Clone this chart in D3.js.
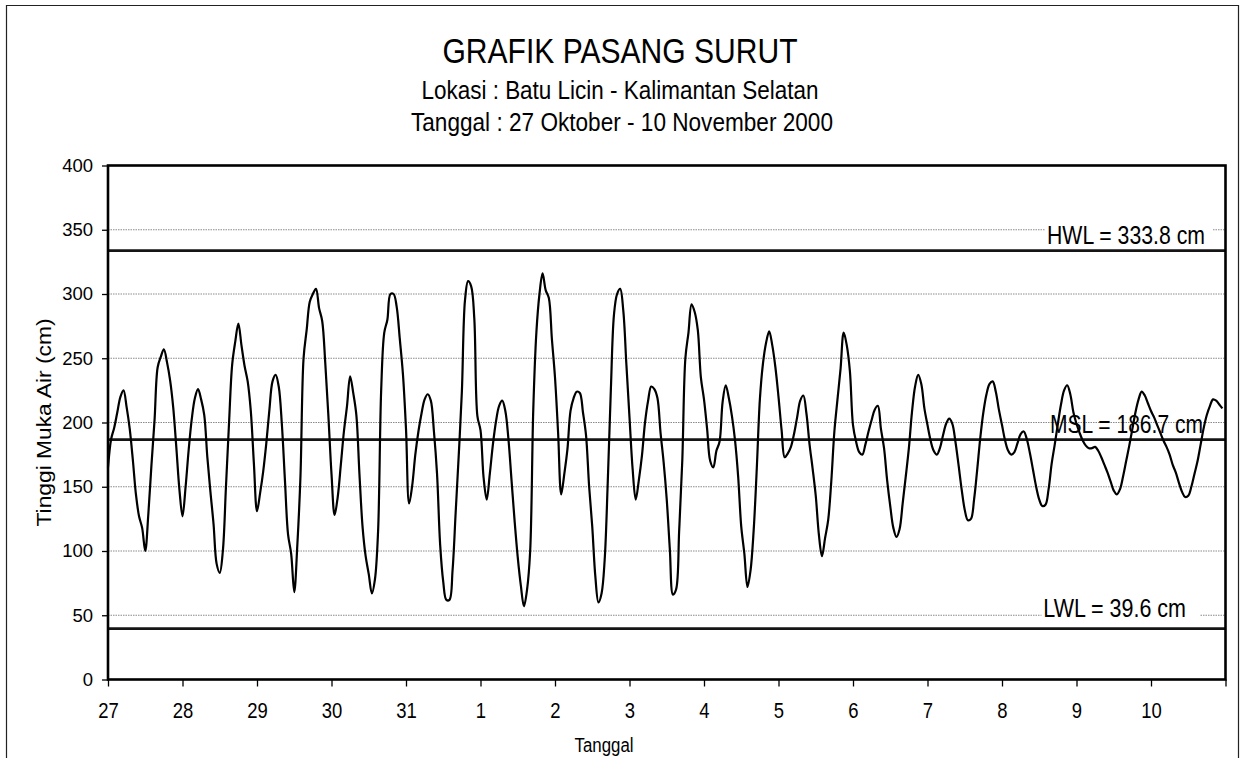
<!DOCTYPE html>
<html><head><meta charset="utf-8">
<script src="https://cdn.jsdelivr.net/npm/d3@7"></script>
<style>
body{margin:0;background:#fff}
svg{display:block}
text{font-family:"Liberation Sans",Arial,Helvetica,sans-serif;fill:#000}
</style>
</head><body>
<svg id="chart" width="1241" height="758"></svg>
<script>
// ---------------- data ----------------
const dayLabels = ["27","28","29","30","31","1","2","3","4","5","6","7","8","9","10"];
const yTickValues = [0,50,100,150,200,250,300,350,400];
const gridValues = [50,100,150,200,250,300,350];
const levelNames = ["HWL","MSL","LWL"];
const levelValues = [333.8,186.7,39.6];
const titleText = "GRAFIK PASANG SURUT";
const subtitle1 = "Lokasi : Batu Licin - Kalimantan Selatan";
const subtitle2 = "Tanggal : 27 Oktober - 10 November 2000";
const yTitle = "Tinggi Muka Air (cm)";
const xTitle = "Tanggal";
// hourly water level (cm), 27 Oct 00:00 .. 10 Nov 23:00
const tide27 = [165,187,196,208,220,225,212,195,171,144,127,118,100,129,167,202,243,251,257,247,233,212,181,148];
const tide28 = [127,150,179,203,219,226,218,206,173,146,121,90,83,100,150,200,245,263,277,260,244,232,209,168];
const tide29 = [131,145,162,184,210,232,237,228,199,155,113,98,68,105,158,250,272,294,300,304,289,279,246,205];
const tide30 = [160,128,142,167,193,213,236,223,206,160,119,96,82,67,78,115,225,270,280,300,300,290,265,238];
const tide31 = [195,137,151,175,193,207,218,222,217,193,160,105,76,62,62,85,130,175,224,295,310,306,281,205];
const tide01 = [194,157,140,160,183,201,213,217,209,187,155,123,95,73,57,70,100,210,270,300,316,303,297,265];
const tide02 = [235,192,144,160,179,209,219,224,223,208,190,150,119,80,60,67,93,154,226,284,300,304,287,245];
const tide03 = [204,164,140,155,174,200,217,228,226,219,192,169,140,101,66,70,116,170,250,270,292,286,272,235];
const tide04 = [218,195,170,165,178,185,216,229,219,205,186,158,119,98,72,85,116,164,218,246,262,271,260,243];
const tide05 = [220,194,173,176,181,191,204,217,221,207,183,164,143,113,96,110,124,154,193,218,242,270,260,240];
const tide06 = [198,185,177,175,183,193,202,210,213,195,180,155,135,118,111,117,137,158,180,208,228,237,230,211];
const tide07 = [198,186,178,175,180,190,199,203,199,185,167,148,132,124,125,140,163,188,208,222,230,232,224,210];
const tide08 = [198,186,178,175,177,184,191,193,187,176,163,150,140,135,136,148,168,183,199,214,225,229,222,208];
const tide09 = [199,192,186,182,180,180,181,178,173,167,161,154,147,144,148,158,170,182,195,208,218,224,221,215];
const tide10 = [209,204,198,192,186,181,175,167,161,153,146,142,143,150,160,170,183,196,206,213,218,217,214,211];
const tide = [].concat(tide27,tide28,tide29,tide30,tide31,tide01,tide02,tide03,tide04,tide05,tide06,tide07,tide08,tide09,tide10);

// ---------------- layout ----------------
const svg = d3.select("#chart");
const L = 108, R = 1225.5, T = 165.5, B = 679.5;
const x = d3.scaleLinear().domain([0, 360]).range([L, R]);
const y = d3.scaleLinear().domain([0, 400]).range([B, T]);

// outer frame
svg.append("path").attr("d","M6.5,800V5.5H1238.5V800").attr("fill","none").attr("stroke","#222").attr("stroke-width",1.2);

// titles
function addText(txt, px, py, size, len, anchor){
  return svg.append("text").attr("x",px).attr("y",py).attr("font-size",size)
    .attr("text-anchor",anchor||"middle").attr("textLength",len).attr("lengthAdjust","spacingAndGlyphs").text(txt);
}
addText(titleText, 620, 63, 34.5, 355);
addText(subtitle1, 620, 99, 25, 397);
addText(subtitle2, 622, 131, 25, 422);

// gridlines
svg.append("g").selectAll("line").data(gridValues).join("line")
  .attr("x1",L).attr("x2",R).attr("y1",d=>y(d)).attr("y2",d=>y(d))
  .attr("stroke","#8a8a8a").attr("stroke-width",1).attr("stroke-dasharray","1.5 1");

// label backgrounds (HWL, LWL)
svg.append("rect").attr("x",1045).attr("y",y(levelValues[0])-29).attr("width",167).attr("height",26).attr("fill","#fff");
svg.append("rect").attr("x",1041.5).attr("y",y(levelValues[2])-32).attr("width",158.5).attr("height",24).attr("fill","#fff");

// level lines
svg.append("g").selectAll("line").data(levelValues).join("line")
  .attr("x1",L).attr("x2",R).attr("y1",d=>y(d)).attr("y2",d=>y(d))
  .attr("stroke","#151515").attr("stroke-width",2.8);

// tide curve
const line = d3.line().x((d,i)=>x(i)).y(d=>y(d)).curve(d3.curveCatmullRom.alpha(0.5));
svg.append("path").datum(tide).attr("d",line).attr("fill","none")
  .attr("stroke","#000").attr("stroke-width",2.2).attr("stroke-linejoin","round");

// level labels
const lblX = [1047, 1050, 1043.3];
const lblLen = [158, 153, 142.7];
const lblDy = [-6.6, -6.3, -11.3];
levelValues.forEach((v,i)=>{
  svg.append("text").attr("x",lblX[i]).attr("y",y(v)+lblDy[i]).attr("font-size",25.5)
    .attr("textLength",lblLen[i]).attr("lengthAdjust","spacingAndGlyphs")
    .text(levelNames[i] + " = " + v.toFixed(1) + " cm");
});

// plot frame
svg.append("rect").attr("x",L).attr("y",T).attr("width",R-L).attr("height",B-T)
  .attr("fill","none").attr("stroke","#000").attr("stroke-width",2.6);

// y axis
const yAxis = svg.append("g").attr("transform",`translate(${L},0)`)
  .call(d3.axisLeft(y).tickValues(yTickValues).tickSize(6).tickPadding(9));
yAxis.select(".domain").remove();
yAxis.selectAll(".tick line").attr("stroke","#000").attr("stroke-width",1.3);
yAxis.selectAll(".tick text").attr("font-size",18.5).attr("font-family",null);

// x axis
const xAxis = svg.append("g").attr("transform",`translate(0,${B})`)
  .call(d3.axisBottom(x).tickValues(d3.range(0,361,24)).tickSize(7).tickPadding(16.5)
    .tickFormat((d,i)=> dayLabels[i] || ""));
xAxis.select(".domain").remove();
xAxis.selectAll(".tick line").attr("stroke","#000").attr("stroke-width",1.3);
xAxis.selectAll(".tick text").attr("font-size",21.5).attr("font-family",null).attr("transform","scale(0.86,1)");

// axis titles
svg.append("text").attr("transform","translate(50.5,422.5) rotate(-90)")
  .attr("text-anchor","middle").attr("font-size",19.5).attr("textLength",208)
  .attr("lengthAdjust","spacingAndGlyphs").text(yTitle);
addText(xTitle, 604, 752, 19.5, 59);
</script>
</body></html>
